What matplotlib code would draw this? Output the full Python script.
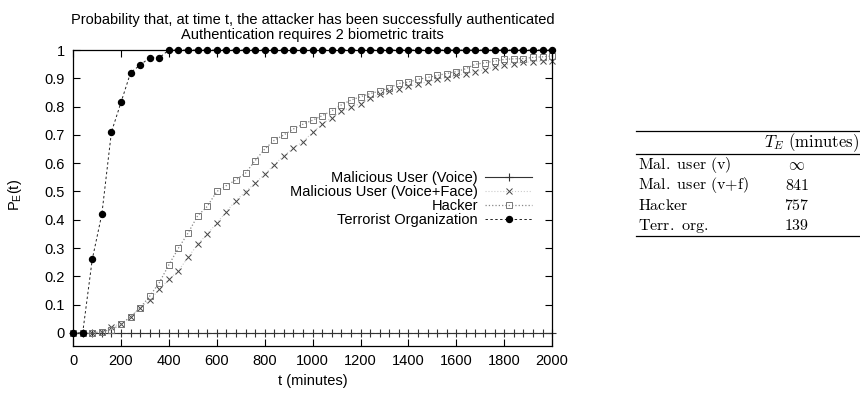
import numpy as np
import matplotlib
matplotlib.use('Agg')
import matplotlib.pyplot as plt

plt.rcParams['font.family'] = ['Liberation Sans', 'DejaVu Sans']
plt.rcParams['mathtext.fontset'] = 'custom'
plt.rcParams['mathtext.rm'] = 'Liberation Sans'
plt.rcParams['mathtext.it'] = 'Liberation Sans'

# data: sampled every 40 minutes
t = np.arange(0, 2001, 40)
voice = [0.0] * 51
voice_face = [0.0, 0.0, 0.0, 0.005, 0.021, 0.033, 0.057, 0.089, 0.116, 0.154,
              0.189, 0.22, 0.267, 0.313, 0.35, 0.388, 0.429, 0.468, 0.499, 0.53,
              0.561, 0.595, 0.626, 0.654, 0.676, 0.709, 0.739, 0.761, 0.784, 0.797,
              0.811, 0.829, 0.843, 0.855, 0.863, 0.872, 0.879, 0.888, 0.896, 0.902,
              0.91, 0.917, 0.924, 0.931, 0.94, 0.947, 0.952, 0.956, 0.959, 0.961,
              0.963]
hacker = [0.0, 0.0, 0.0, 0.004, 0.012, 0.03, 0.057, 0.089, 0.13, 0.178,
          0.241, 0.30, 0.353, 0.414, 0.447, 0.50, 0.521, 0.541, 0.565, 0.609,
          0.65, 0.681, 0.70, 0.721, 0.738, 0.752, 0.768, 0.785, 0.806, 0.823,
          0.835, 0.846, 0.855, 0.866, 0.882, 0.887, 0.896, 0.903, 0.91, 0.917,
          0.924, 0.934, 0.95, 0.955, 0.961, 0.967, 0.969, 0.97, 0.974, 0.976,
          0.979]
terrorist = [0.0, 0.0, 0.26, 0.42, 0.71, 0.815, 0.92, 0.947, 0.973, 0.973] + [1.0] * 41

table_rows = [r'Mal.\ user\ (v)', r'Mal.\ user\ (v{+}f)', 'Hacker', r'Terr.\ org.']
table_vals = [r'$\infty$', r'$\mathrm{841}$', r'$\mathrm{757}$', r'$\mathrm{139}$']

fig = plt.figure(figsize=(8.6, 3.94), dpi=100)
ax = fig.add_axes([0.085, 0.122, 0.557, 0.751])

ax.plot(t, voice, '-', color='#333333', lw=0.8, marker='+', ms=6, mew=0.8,
        clip_on=False, label='Malicious User (Voice)')
ax.plot(t, voice_face, ':', color='#cccccc', lw=0.8, marker='x', ms=5, mew=0.7,
        mec='#444444', clip_on=False, label='Malicious User (Voice+Face)')
ax.plot(t, hacker, ':', color='#888888', lw=0.9, marker='s', ms=5, mew=0.7,
        mfc='none', mec='#777777', clip_on=False, label='Hacker')
ax.plot(t, terrorist, linestyle=(0, (2.5, 2.5)), color='#222222', lw=0.7,
        marker='o', ms=4.3, mfc='black', mec='black', clip_on=False,
        label='Terrorist Organization')

ax.set_xlim(0, 2000)
ax.set_ylim(-0.046, 1.0)
ax.set_xticks(np.arange(0, 2001, 200))
ax.set_yticks(np.arange(0, 1.01, 0.1))
ax.set_yticklabels(['0', '0.1', '0.2', '0.3', '0.4', '0.5', '0.6', '0.7', '0.8', '0.9', '1'])
ax.tick_params(direction='in', top=True, right=True, length=5, width=0.8,
               labelsize=10.5, pad=6)
for s in ax.spines.values():
    s.set_linewidth(0.9)

ax.set_xlabel('t (minutes)', fontsize=10.5, labelpad=4)
ax.set_ylabel(r'P$_{\rm E}$(t)', fontsize=10.5, rotation=90, va='center', ha='center')
ax.yaxis.set_label_coords(-0.121, 0.51)
ax.set_title('Probability that, at time t, the attacker has been successfully authenticated\n'
             'Authentication requires 2 biometric traits', fontsize=10.5, linespacing=1.05, pad=8)

ax.legend(loc='upper right', bbox_to_anchor=(0.958, 0.59), frameon=False,
          markerfirst=False, fontsize=10.5, handlelength=3.2, handletextpad=0.5,
          labelspacing=0.0, borderaxespad=0, borderpad=0)

# table on the right
x0, x1 = 636 / 860, 1.0
yy = lambda p: 1 - p / 394
for p in (131, 154, 236):
    fig.add_artist(plt.Line2D([x0, x1], [yy(p), yy(p)], color='black', lw=0.9))
fig.text(0.999, yy(143), r'$T_E\ \mathrm{(minutes)}$', math_fontfamily='cm',
         fontsize=12, ha='right', va='center')
for i, (r, v) in enumerate(zip(table_rows, table_vals)):
    y = yy(165 + i * 20.3)
    fig.text(x0 + 0.002, y, r'$\mathrm{' + r + '}$',
             math_fontfamily='cm', fontsize=11.5, ha='left', va='center')
    fig.text(797 / 860, y, v, math_fontfamily='cm', fontsize=11.5,
             ha='center', va='center')

fig.savefig('out.png', dpi=100)
